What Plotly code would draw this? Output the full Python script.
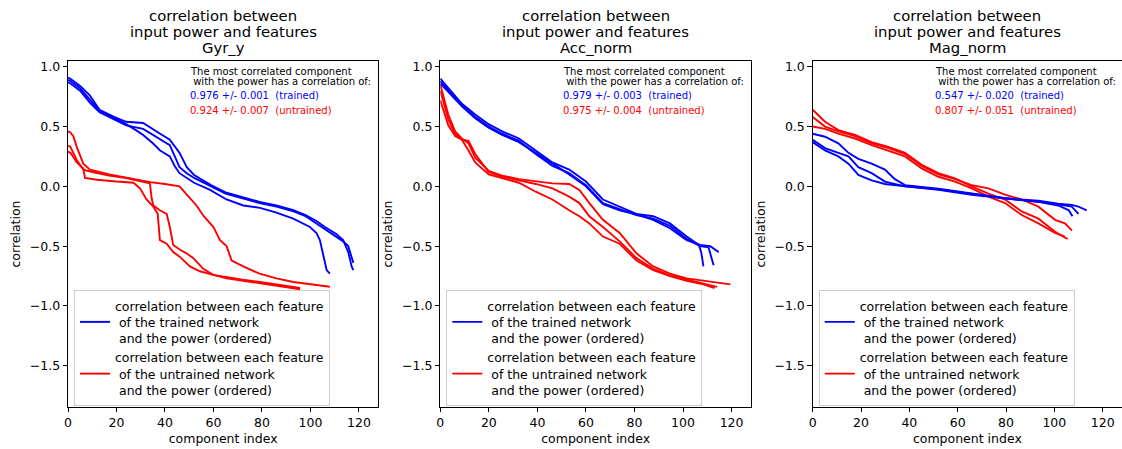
import plotly.graph_objects as go

# ---------------- data ----------------
sensor_names = ["Gyr_y", "Acc_norm", "Mag_norm"]
trained_stats = ["0.976 +/- 0.001  (trained)", "0.979 +/- 0.003  (trained)", "0.547 +/- 0.020  (trained)"]
untrained_stats = ["0.924 +/- 0.007  (untrained)", "0.975 +/- 0.004  (untrained)", "0.807 +/- 0.051  (untrained)"]
x_tick_values = [0, 20, 40, 60, 80, 100, 120]
y_tick_values = [-1.5, -1.0, -0.5, 0.0, 0.5, 1.0]

# Gyr_y - trained
gyr_tr1_x = [0, 1, 5, 9, 13, 19, 24, 28, 31, 35, 38, 42, 44, 46, 49, 52, 58.6, 65.4, 72.3, 79.2, 86, 92.9, 99.8, 102.5, 103.9, 105.3, 106.7, 108]
gyr_tr1_y = [0.89, 0.88, 0.82, 0.72, 0.63, 0.57, 0.52, 0.47, 0.43, 0.36, 0.30, 0.25, 0.17, 0.11, 0.07, 0.03, -0.03, -0.11, -0.16, -0.18, -0.22, -0.27, -0.34, -0.39, -0.45, -0.57, -0.70, -0.73]
gyr_tr2_x = [0, 1, 5, 9, 13, 19, 24, 31, 38, 42, 46, 49, 52, 59, 65, 72, 79, 86, 93, 98, 102.5, 106, 110.8, 113.5, 115.6, 117, 117.7]
gyr_tr2_y = [0.91, 0.90, 0.84, 0.76, 0.64, 0.58, 0.54, 0.53, 0.44, 0.39, 0.28, 0.16, 0.095, 0.01, -0.05, -0.09, -0.13, -0.16, -0.20, -0.24, -0.29, -0.34, -0.40, -0.45, -0.55, -0.67, -0.70]
gyr_tr3_x = [0, 1, 5, 9, 13, 19, 24, 31, 38, 42, 46, 49, 52, 59, 65, 72, 79, 86, 93, 98, 102.5, 106, 110.8, 113.5, 115.6, 117, 117.7]
gyr_tr3_y = [0.87, 0.86, 0.80, 0.70, 0.62, 0.56, 0.51, 0.48, 0.39, 0.345, 0.16, 0.11, 0.07, 0.0, -0.06, -0.10, -0.14, -0.17, -0.21, -0.25, -0.31, -0.36, -0.42, -0.46, -0.50, -0.60, -0.64]
# Gyr_y - untrained
gyr_un1_x = [0, 1, 2.2, 3.6, 6.3, 9.1, 17, 24, 30, 34, 40, 46, 49, 53, 56, 60, 62.7, 65.4, 67.5, 72.3, 79, 86, 93, 100, 108]
gyr_un1_y = [0.46, 0.45, 0.42, 0.33, 0.19, 0.14, 0.10, 0.075, 0.05, 0.035, 0.02, 0.0, -0.07, -0.16, -0.25, -0.34, -0.45, -0.50, -0.62, -0.67, -0.73, -0.77, -0.80, -0.82, -0.84]
gyr_un2_x = [0, 1, 3.6, 6.3, 10, 17, 24, 30, 33.8, 34.5, 35.2, 37.9, 40.7, 42, 43.4, 46.2, 48.9, 51.7, 55.8, 59.9, 65.4, 72, 79.2, 86, 95.7]
gyr_un2_y = [0.34, 0.33, 0.22, 0.14, 0.12, 0.09, 0.07, 0.04, 0.025, -0.10, -0.16, -0.20, -0.23, -0.34, -0.49, -0.53, -0.56, -0.60, -0.69, -0.74, -0.76, -0.78, -0.80, -0.82, -0.85]
gyr_un3_x = [0, 1, 3.6, 6.3, 7.0, 12, 20, 27, 29.7, 32.4, 35.2, 37, 37.9, 40.7, 43.4, 46.2, 50.3, 54.4, 59.9, 65.4, 72.3, 79.2, 86, 95.7]
gyr_un3_y = [0.29, 0.28, 0.20, 0.15, 0.07, 0.055, 0.04, 0.03, -0.017, -0.11, -0.17, -0.23, -0.45, -0.48, -0.55, -0.59, -0.67, -0.71, -0.74, -0.77, -0.79, -0.81, -0.83, -0.86]

# Acc_norm - trained
acc_tr1_x = [0, 4.7, 8.9, 14.4, 19.9, 25.5, 32.4, 39.3, 46.2, 53.1, 60, 67, 73.9, 80.8, 87.7, 94.6, 101.5, 106.5, 107.5, 108.4]
acc_tr1_y = [0.90, 0.79, 0.69, 0.60, 0.52, 0.46, 0.40, 0.30, 0.20, 0.14, 0.04, -0.11, -0.17, -0.23, -0.25, -0.31, -0.42, -0.49, -0.55, -0.67]
acc_tr2_x = [0, 4.7, 8.9, 14.4, 19.9, 25.5, 32.4, 39.3, 46.2, 53.1, 60, 67, 73.9, 80.8, 87.7, 94.6, 101.5, 107, 110.5, 111.5, 112.6]
acc_tr2_y = [0.88, 0.77, 0.68, 0.58, 0.50, 0.44, 0.38, 0.27, 0.17, 0.11, 0.01, -0.14, -0.19, -0.24, -0.27, -0.33, -0.44, -0.50, -0.51, -0.58, -0.66]
acc_tr3_x = [0, 4.7, 8.9, 14.4, 19.9, 25.5, 32.4, 39.3, 46.2, 53.1, 60, 67, 73.9, 80.8, 87.7, 94.6, 101.5, 107, 111.2, 114.7]
acc_tr3_y = [0.86, 0.76, 0.67, 0.57, 0.49, 0.43, 0.37, 0.28, 0.19, 0.10, 0.00, -0.15, -0.20, -0.235, -0.28, -0.35, -0.45, -0.49, -0.50, -0.55]
# Acc_norm - untrained
acc_un1_x = [0, 3.3, 6.1, 8.9, 11.6, 14.4, 19.9, 25.5, 32.4, 39.3, 46.2, 53.1, 57.3, 61.4, 67, 73.9, 80.8, 87.7, 94.6, 101.5, 108.4, 114, 119.5]
acc_un1_y = [0.85, 0.60, 0.46, 0.40, 0.36, 0.24, 0.13, 0.09, 0.06, 0.04, 0.025, 0.02, -0.03, -0.14, -0.28, -0.39, -0.56, -0.67, -0.73, -0.77, -0.79, -0.80, -0.82]
acc_un2_x = [0, 3.3, 6.1, 8.9, 11.6, 14.4, 19.9, 25.5, 32.4, 39.3, 46.2, 53.1, 57.3, 61.4, 67, 73.9, 80.8, 87.7, 94.6, 101.5, 108.4, 114]
acc_un2_y = [0.80, 0.56, 0.44, 0.39, 0.38, 0.27, 0.12, 0.08, 0.05, 0.02, -0.017, -0.086, -0.14, -0.25, -0.34, -0.46, -0.60, -0.69, -0.745, -0.78, -0.81, -0.84]
acc_un3_x = [0, 3.3, 6.1, 8.9, 11.6, 14.4, 19.9, 25.5, 32.4, 39.3, 46.2, 53.1, 57.3, 61.4, 67, 73.9, 80.8, 87.7, 94.6, 101.5, 108.4, 113]
acc_un3_y = [0.72, 0.51, 0.42, 0.39, 0.30, 0.20, 0.10, 0.07, 0.03, -0.045, -0.11, -0.20, -0.25, -0.31, -0.42, -0.48, -0.62, -0.70, -0.75, -0.79, -0.82, -0.85]

# Mag_norm - trained
mag_tr1_x = [0, 5.1, 10.6, 14.8, 18.9, 24.4, 29.9, 34, 38.2, 52, 65.8, 79.6, 93.4, 101.6, 107.2, 110, 113.4]
mag_tr1_y = [0.44, 0.415, 0.36, 0.28, 0.23, 0.19, 0.14, 0.06, 0.01, -0.02, -0.06, -0.10, -0.12, -0.145, -0.155, -0.17, -0.20]
mag_tr2_x = [0, 5.1, 10.6, 14.8, 18.9, 24.4, 29.9, 34, 38.2, 52, 65.8, 79.6, 93.4, 101.6, 107.2, 110]
mag_tr2_y = [0.39, 0.32, 0.28, 0.25, 0.16, 0.11, 0.04, 0.02, 0.0, -0.025, -0.065, -0.10, -0.13, -0.15, -0.17, -0.23]
mag_tr3_x = [0, 5.1, 10.6, 14.8, 18.9, 24.4, 29.9, 34, 38.2, 52, 65.8, 79.6, 93.4, 101.6, 106, 107.5]
mag_tr3_y = [0.37, 0.30, 0.25, 0.19, 0.095, 0.05, 0.02, 0.01, 0.0, -0.03, -0.07, -0.10, -0.13, -0.16, -0.20, -0.25]
# Mag_norm - untrained
mag_un1_x = [0, 5.1, 10.6, 17.5, 24.4, 31.3, 38.2, 45.1, 52, 58.9, 65.8, 72.7, 79.6, 86.5, 93.4, 100.3, 104.4, 107.3]
mag_un1_y = [0.58, 0.50, 0.46, 0.42, 0.36, 0.32, 0.27, 0.17, 0.10, 0.06, 0.01, -0.017, -0.07, -0.11, -0.17, -0.28, -0.31, -0.37]
mag_un2_x = [0, 5.1, 10.6, 17.5, 24.4, 31.3, 38.2, 45.1, 52, 58.9, 65.8, 72.7, 79.6, 86.5, 93.4, 100.3, 104.4, 105.5]
mag_un2_y = [0.64, 0.54, 0.47, 0.43, 0.37, 0.33, 0.28, 0.18, 0.11, 0.067, 0.0, -0.06, -0.11, -0.21, -0.27, -0.38, -0.43, -0.44]
mag_un3_x = [0, 5.1, 10.6, 17.5, 24.4, 31.3, 38.2, 45.1, 52, 58.9, 65.8, 72.7, 79.6, 86.5, 93.4, 100.3, 104.4]
mag_un3_y = [0.50, 0.48, 0.44, 0.40, 0.345, 0.30, 0.25, 0.15, 0.08, 0.04, -0.017, -0.086, -0.14, -0.24, -0.31, -0.39, -0.42]

trained_runs = [
    [(gyr_tr1_x, gyr_tr1_y), (gyr_tr2_x, gyr_tr2_y), (gyr_tr3_x, gyr_tr3_y)],
    [(acc_tr1_x, acc_tr1_y), (acc_tr2_x, acc_tr2_y), (acc_tr3_x, acc_tr3_y)],
    [(mag_tr1_x, mag_tr1_y), (mag_tr2_x, mag_tr2_y), (mag_tr3_x, mag_tr3_y)],
]
untrained_runs = [
    [(gyr_un1_x, gyr_un1_y), (gyr_un2_x, gyr_un2_y), (gyr_un3_x, gyr_un3_y)],
    [(acc_un1_x, acc_un1_y), (acc_un2_x, acc_un2_y), (acc_un3_x, acc_un3_y)],
    [(mag_un1_x, mag_un1_y), (mag_un2_x, mag_un2_y), (mag_un3_x, mag_un3_y)],
]

# ---------------- styling / layout ----------------
W, H = 1122, 449
FONT = "DejaVu Sans"
NB = "\u00a0"
BLUE, RED = "#0000ff", "#ff0000"
trained_label = "correlation between each feature<br>" + NB + "of the trained network<br>" + NB + "and the power (ordered)"
untrained_label = "correlation between each feature<br>" + NB + "of the untrained network<br>" + NB + "and the power (ordered)"

x_domains_px = [(68, 378.3), (440.3, 751), (812.7, 1122)]
y_top_px, y_bot_px = 61, 407
legend_names = ["legend", "legend2", "legend3"]

fig = go.Figure()
layout = dict(
    width=W, height=H,
    margin=dict(l=0, r=0, t=0, b=0),
    paper_bgcolor="white", plot_bgcolor="white",
    font=dict(family=FONT, size=12.5, color="black"),
    showlegend=True,
)
annotations = []

for i in range(3):
    xa = "x" if i == 0 else f"x{i+1}"
    ya = "y" if i == 0 else f"y{i+1}"
    xkey = "xaxis" if i == 0 else f"xaxis{i+1}"
    ykey = "yaxis" if i == 0 else f"yaxis{i+1}"
    lg = legend_names[i]

    for k, (xs, ys) in enumerate(untrained_runs[i]):
        fig.add_trace(go.Scatter(x=xs, y=ys, mode="lines", xaxis=xa, yaxis=ya,
                                 line=dict(color=RED, width=1.9),
                                 name=untrained_label, legend=lg, legendrank=2,
                                 showlegend=(k == 0), hoverinfo="skip"))
    for k, (xs, ys) in enumerate(trained_runs[i]):
        fig.add_trace(go.Scatter(x=xs, y=ys, mode="lines", xaxis=xa, yaxis=ya,
                                 line=dict(color=BLUE, width=1.9),
                                 name=trained_label, legend=lg, legendrank=1,
                                 showlegend=(k == 0), hoverinfo="skip"))

    x0, x1 = x_domains_px[i]
    layout[xkey] = dict(
        domain=[x0 / W, min(x1 / W, 1.0)], range=[0, 128], anchor=ya,
        tickmode="array", tickvals=x_tick_values, ticks="outside", ticklen=4.4, tickwidth=1,
        tickcolor="black", showline=True, linecolor="black", linewidth=1, mirror=True,
        showgrid=False, zeroline=False, automargin=False,
        tickfont=dict(size=12.5, color="black", family=FONT),
        title=dict(text="component index", standoff=4, font=dict(size=12.5, color="black", family=FONT)),
    )
    layout[ykey] = dict(
        domain=[1 - y_bot_px / H, 1 - y_top_px / H], range=[-1.845, 1.048], anchor=xa,
        tickmode="array", tickvals=y_tick_values, tickformat=".1f", ticks="outside", ticklen=4.4,
        tickwidth=1, tickcolor="black", showline=True, linecolor="black", linewidth=1, mirror=True,
        showgrid=False, zeroline=False, automargin=False,
        tickfont=dict(size=12.5, color="black", family=FONT),
        title=dict(text="correlation", standoff=6, font=dict(size=12.5, color="black", family=FONT)),
    )
    layout[lg] = dict(
        x=(x0 + 6) / W, y=1 - 406 / H, xanchor="left", yanchor="bottom",
        bgcolor="rgba(255,255,255,0.8)", bordercolor="#cccccc", borderwidth=1,
        font=dict(size=12.5, color="black", family=FONT), valign="middle",
        tracegroupgap=0, itemwidth=30,
    )

    # panel title, one line per annotation
    cx = (x0 + x_domains_px[i][1]) / 2 / W
    title_lines = ["correlation between", "input power and features", sensor_names[i]]
    for j, (line, ypx) in enumerate(zip(title_lines, [15.7, 31.7, 47.7])):
        annotations.append(dict(text=line, xref="paper", yref="paper", x=cx, y=1 - ypx / H,
                                xanchor="center", yanchor="middle", showarrow=False, borderpad=0,
                                font=dict(size=14.8, color="black", family=FONT)))

    # statistics text inside axes
    info = [("The most correlated component", 0.957, "black"),
            (NB + "with the power has a correlation of:", 0.874, "black"),
            (trained_stats[i].replace("  ", NB + NB), 0.763, BLUE),
            (untrained_stats[i].replace("  ", NB + NB), 0.637, RED)]
    for text, yv, col in info:
        annotations.append(dict(text=text, xref=xa, yref=ya, x=50, y=yv, xanchor="left",
                                yanchor="middle", showarrow=False, borderpad=0,
                                font=dict(size=10, color=col, family=FONT)))

layout["annotations"] = annotations
fig.update_layout(**layout)
fig.write_html("out.html", config={"displayModeBar": False},
               post_script="document.body.style.margin='0px';document.body.style.padding='0px';")
